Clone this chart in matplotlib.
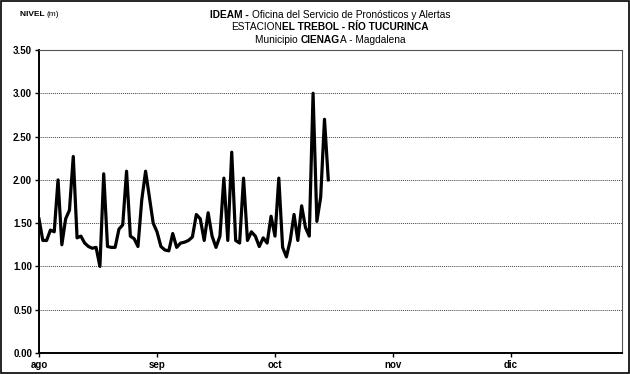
import calendar

import matplotlib
matplotlib.use("Agg")
import matplotlib.pyplot as plt
import numpy as np
import pandas as pd
from matplotlib.offsetbox import AnnotationBbox, HPacker, TextArea, VPacker
from matplotlib.patches import Rectangle


plt.rcParams["font.family"] = ["Liberation Sans Narrow", "Liberation Sans", "DejaVu Sans"]

# daily river level (m), 1 Aug .. 15 Oct
START_DATE = "2010-08-01"
LEVELS = [
    1.55, 1.30, 1.30, 1.42, 1.40, 2.00, 1.25, 1.55, 1.65, 2.27,
    1.33, 1.35, 1.27, 1.23, 1.21, 1.22, 1.00, 2.07, 1.23, 1.22,
    1.22, 1.43, 1.48, 2.10, 1.35, 1.32, 1.23, 1.77, 2.10, 1.80,
    1.50,
    # sep
    1.40, 1.23, 1.19, 1.18, 1.38, 1.22, 1.27, 1.28, 1.30, 1.34,
    1.60, 1.55, 1.30, 1.62, 1.35, 1.22, 1.35, 2.02, 1.30, 2.32,
    1.30, 1.27, 2.02, 1.30, 1.40, 1.35, 1.23, 1.33, 1.27, 1.58,
    # oct
    1.35, 2.02, 1.22, 1.11, 1.30, 1.60, 1.30, 1.70, 1.45, 1.35,
    3.00, 1.52, 1.80, 2.70, 2.00,
]
MONTH_LABELS = ["ago", "sep", "oct", "nov", "dic"]
Y_TICKS = [0.0, 0.5, 1.0, 1.5, 2.0, 2.5, 3.0, 3.5]


def month_position(dates: pd.DatetimeIndex) -> np.ndarray:
    # each month gets the same width on the axis, as in the original sheet
    days_in = np.array([calendar.monthrange(d.year, d.month)[1] for d in dates])
    return (dates.month - 8) + (dates.day - 1) / days_in


def main() -> None:
    dates = pd.date_range(START_DATE, periods=len(LEVELS), freq="D")
    xpos = month_position(dates)

    fig = plt.figure(figsize=(6.3, 3.74), dpi=100)
    ax = fig.add_axes([39 / 630, 1 - 353 / 374, (622 - 39) / 630, (353 - 50) / 374])

    ax.plot(xpos, LEVELS, color="black", lw=2.3, solid_joinstyle="round")

    ax.set_xlim(0, (622 - 39) / 118)
    ax.set_ylim(0, 3.5)
    ax.set_yticks(Y_TICKS)
    ax.set_yticklabels([f"{v:.2f}" for v in Y_TICKS], fontweight="bold", fontsize=7)
    ax.set_xticks(range(len(MONTH_LABELS)))
    ax.set_xticklabels(MONTH_LABELS, fontweight="bold", fontsize=7)
    ax.tick_params(axis="both", direction="out", length=3, width=1, pad=2)

    for y in Y_TICKS[1:-1]:
        ax.axhline(y, color="#444444", lw=0.7, ls=(0, (1, 1)), zorder=0)

    for side in ("left", "bottom"):
        ax.spines[side].set_linewidth(1.4)
    ax.spines["top"].set_color("#555555")
    ax.spines["top"].set_linewidth(0.8)
    ax.spines["right"].set_color("#555555")
    ax.spines["right"].set_linewidth(0.8)

    fs = 7.3
    line1 = HPacker(children=[
        TextArea("IDEAM - ", textprops=dict(fontsize=fs, fontweight="bold")),
        TextArea("Oficina del Servicio de Pronósticos y Alertas", textprops=dict(fontsize=fs)),
    ], pad=0, sep=0)
    line2 = HPacker(children=[
        TextArea("ESTACION", textprops=dict(fontsize=fs)),
        TextArea("EL TREBOL - RÍO TUCURINCA", textprops=dict(fontsize=fs, fontweight="bold")),
    ], pad=0, sep=0)
    line3 = HPacker(children=[
        TextArea("Municipio ", textprops=dict(fontsize=fs)),
        TextArea("CIENAG", textprops=dict(fontsize=fs, fontweight="bold")),
        TextArea("A - Magdalena", textprops=dict(fontsize=fs)),
    ], pad=0, sep=0)
    title = VPacker(children=[line1, line2, line3], align="center", pad=0, sep=1.5)
    ab = AnnotationBbox(title, (330 / 630, 1 - 27.5 / 374), xycoords="figure fraction",
                        frameon=True, pad=0.1, box_alignment=(0.5, 0.5))
    ab.patch.set_facecolor("white")
    ab.patch.set_edgecolor("none")
    fig.add_artist(ab)

    ylab = HPacker(children=[
        TextArea("NIVEL ", textprops=dict(fontsize=6, fontweight="bold")),
        TextArea("(m)", textprops=dict(fontsize=6)),
    ], pad=0, sep=0)
    ab2 = AnnotationBbox(ylab, (20 / 630, 1 - 14 / 374), xycoords="figure fraction",
                         frameon=False, box_alignment=(0, 0.5))
    fig.add_artist(ab2)

    fig.add_artist(Rectangle((0.001, 0.002), 0.997, 0.995, transform=fig.transFigure,
                             fill=False, edgecolor="black", lw=1.2))

    fig.savefig("out.png", dpi=100)


if __name__ == "__main__":
    main()
